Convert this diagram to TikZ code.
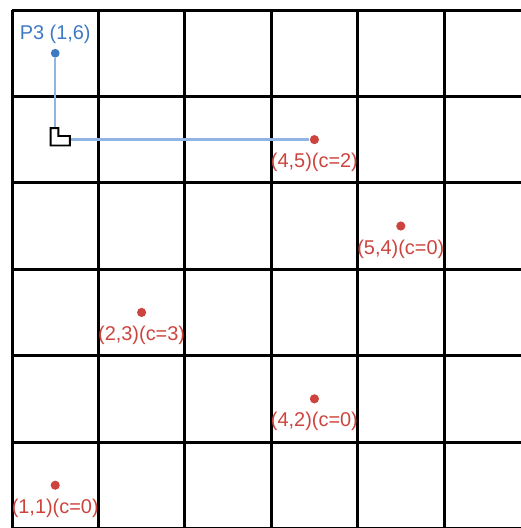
\documentclass[tikz,border=0pt]{standalone}
\usepackage{fontspec}
\setmainfont{Liberation Sans}
\usetikzlibrary{positioning, calc}
\definecolor{ptred}{RGB}{205,68,62}
\definecolor{ptblue}{RGB}{62,122,196}
\definecolor{pathblue}{RGB}{145,180,228}

\begin{document}
\begin{tikzpicture}[
    x=1.524cm, y=1.524cm,
    every node/.style={font=\fontsize{10}{12}\selectfont},
    gridline/.style={line width=1.5pt, black},
    pt/.style={circle, fill=ptred, inner sep=0pt, minimum size=4.6pt},
    src/.style={circle, fill=ptblue, inner sep=0pt, minimum size=4.4pt},
    lbl/.style={text=ptred, inner sep=0pt, on grid, below=11.5pt of #1},
    srclbl/.style={text=ptblue, inner sep=0pt, on grid, above=9.5pt of #1},
    route/.style={pathblue, line width=1.2pt},
    elbow/.style={draw=black, fill=white, line width=1pt, line join=miter}
]
    \useasboundingbox (-0.139,0.005) rectangle (5.891,6.116);
    \clip (-0.139,0.005) rectangle (5.891,6.116);
    \foreach \k in {0,...,6} {
        \draw[gridline] (\k,0) -- (\k,6);
        \draw[gridline] (0,\k) -- (6,\k);
    }

    % points
    \node[src] (p16) at (0.5,5.5) {};
    \node[pt]  (p45) at (3.5,4.5) {};
    \node[pt]  (p54) at (4.5,3.5) {};
    \node[pt]  (p23) at (1.5,2.5) {};
    \node[pt]  (p42) at (3.5,1.5) {};
    \node[pt]  (p11) at (0.5,0.5) {};

    \node[srclbl=p16] (l16) {P3 (1,6)};
    \node[lbl=p45] (l45) {(4,5)(c=2)};
    \node[lbl=p54] (l54) {(5,4)(c=0)};
    \node[lbl=p23] (l23) {(2,3)(c=3)};
    \node[lbl=p42] (l42) {(4,2)(c=0)};
    \node[lbl=p11] (l11) {(1,1)(c=0)};

    % path from P3 with right-angle mark
    \coordinate (bend) at (0.5,4.5);
    \draw[route] (p16) -- (bend) -- (p45);
    \draw[elbow] ($(bend)+(-0.054,0.134)$) -- ++(0.092,0) -- ++(0,-0.092)
        -- ++(0.133,0) -- ++(0,-0.11) -- ++(-0.225,0) -- cycle;
\end{tikzpicture}
\end{document}
